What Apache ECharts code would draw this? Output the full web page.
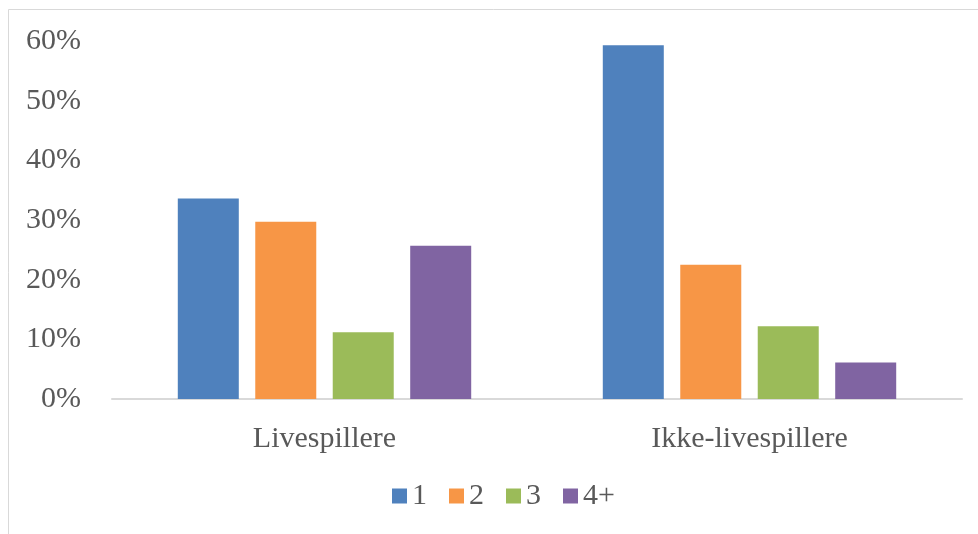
<!DOCTYPE html>
<html>
<head>
<meta charset="utf-8">
<script src="https://cdn.jsdelivr.net/npm/echarts@6/dist/echarts.min.js"></script>
<style>
  html, body { margin: 0; padding: 0; background: #ffffff; }
  #chart { width: 978px; height: 534px; }
</style>
</head>
<body>
<div id="chart"></div>
<script>
// Player groups on the category axis
const categories = ['Livespillere', 'Ikke-livespillere'];

// Share of respondents (%) per group, by count
const seriesNames = ['1', '2', '3', '4+'];
const values1 = [33.6, 59.3];
const values2 = [29.7, 22.5];
const values3 = [11.2, 12.2];
const values4 = [25.7, 6.1];

// Value axis ticks (%)
const yTicks = [0, 10, 20, 30, 40, 50, 60];

const colors = ['#4f81bd', '#f79646', '#9bbb59', '#8064a2'];
const seriesValues = [values1, values2, values3, values4];

const fontFamily = '"Liberation Serif", "DejaVu Serif", serif';
const textColor = '#595959';

const chart = echarts.init(document.getElementById('chart'), null, { renderer: 'canvas' });

chart.setOption({
  animation: false,
  backgroundColor: '#ffffff',
  color: colors,
  textStyle: { fontFamily: fontFamily },
  graphic: [{
    type: 'rect',
    shape: { x: 8.5, y: 9.5, width: 1200, height: 1200 },
    style: { fill: 'none', stroke: '#d9d9d9', lineWidth: 1 },
    silent: true
  }],
  grid: {
    left: 112,
    right: 16,
    top: 41,
    bottom: 135,
    containLabel: false
  },
  legend: {
    data: seriesNames,
    left: 392,
    top: 481,
    padding: 0,
    itemWidth: 15,
    itemHeight: 15,
    itemGap: 22,
    icon: 'rect',
    textStyle: {
      fontFamily: fontFamily,
      fontSize: 30,
      color: textColor,
      lineHeight: 30
    }
  },
  xAxis: {
    type: 'category',
    data: categories,
    axisLine: { show: true, lineStyle: { color: '#d9d9d9', width: 2 } },
    axisTick: { show: false },
    axisLabel: {
      fontFamily: fontFamily,
      fontSize: 30,
      color: textColor,
      margin: 25
    },
    splitLine: { show: false }
  },
  yAxis: {
    type: 'value',
    min: yTicks[0],
    max: yTicks[yTicks.length - 1],
    interval: yTicks[1] - yTicks[0],
    axisLine: { show: false },
    axisTick: { show: false },
    splitLine: { show: false },
    axisLabel: {
      fontFamily: fontFamily,
      fontSize: 30,
      color: textColor,
      margin: 31,
      formatter: v => v + '%'
    }
  },
  series: seriesNames.map((name, i) => ({
    name: name,
    type: 'bar',
    data: seriesValues[i],
    barWidth: 61,
    barGap: '27%',
    itemStyle: { color: colors[i] },
    emphasis: { disabled: true }
  }))
});
</script>
</body>
</html>
